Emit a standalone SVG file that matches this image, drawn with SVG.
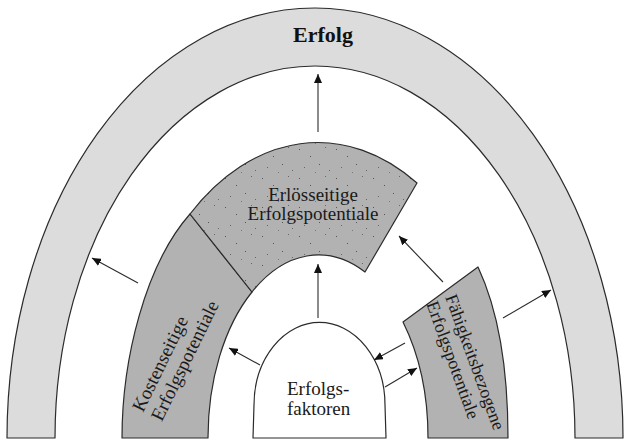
<svg xmlns="http://www.w3.org/2000/svg" width="624" height="443" viewBox="0 0 624 443">
<style>
.band{stroke:#2b2b2b;stroke-width:1.2;stroke-linejoin:round}
.outer{fill:#dcdcdc}
.mid{fill:#b2b2b2}
.white{fill:#ffffff}
.lbl{font-family:"Liberation Serif","Times New Roman",serif;font-size:19px;fill:#1a1a1a}
.sm{font-size:18px}
.ttl{font-family:"Liberation Serif","Times New Roman",serif;font-size:22px;font-weight:bold;fill:#111}
.arr{stroke:#2b2b2b;stroke-width:1.1;fill:none;marker-end:url(#ah)}
</style>
<defs>
<marker id="ah" markerUnits="userSpaceOnUse" markerWidth="10" markerHeight="8" refX="9" refY="4" orient="auto">
<path d="M0,0 L9,4 L0,8 Z" fill="#111"/>
</marker>
<pattern id="speck" width="37" height="29" patternUnits="userSpaceOnUse">
<rect width="37" height="29" fill="#b2b2b2"/>
<rect x="3" y="4" width="1" height="1" fill="#555"/>
<rect x="14" y="11" width="1" height="1" fill="#555"/>
<rect x="29" y="2" width="1" height="1" fill="#666"/>
<rect x="8" y="22" width="1" height="1" fill="#666"/>
<rect x="23" y="19" width="1" height="1" fill="#555"/>
<rect x="33" y="25" width="1" height="1" fill="#666"/>
<rect x="19" y="27" width="1" height="1" fill="#777"/>
</pattern>
</defs>

<g id="node-erfolg">
<path class="band outer" d="M7,438 A308,430 0 0 1 623,438 L575,438 A260,372 0 0 0 55,438 Z"/>
<text class="ttl" x="323" y="42" text-anchor="middle">Erfolg</text>
</g>

<g id="node-kosten">
<path class="band mid" d="M122,438 C122,360 145,265 190,214 L252,292 A110,182 0 0 0 208,438 Z"/>
<g transform="translate(143,413) rotate(-64)">
<text class="lbl" x="0" y="0">Kostenseitige</text>
<text class="lbl" x="0" y="21">Erfolgspotentiale</text>
</g>
</g>

<g id="node-erloes">
<path class="band" fill="url(#speck)" d="M190,214 A196,295 0 0 1 417,183 L365,272 A110,182 0 0 0 252,292 Z"/>
<text class="lbl" x="313" y="201" text-anchor="middle">Erlösseitige</text>
<text class="lbl" x="313" y="220" text-anchor="middle">Erfolgspotentiale</text>
</g>

<g id="node-faehigkeit">
<path class="band mid" d="M403,322 L478,267 Q508,331 508,438 L428,438 A110,182 0 0 0 403,322 Z"/>
<g transform="translate(445,297) rotate(70)">
<text class="lbl sm" x="0" y="0">Fähigkeitsbezogene</text>
<text class="lbl sm" x="0" y="20">Erfolgspotentiale</text>
</g>
</g>

<g id="node-faktoren">
<path class="band white" d="M253,438 L254,405 A65,82 0 0 1 385,405 L386,438 Z"/>
<text class="lbl" x="287" y="395">Erfolgs-</text>
<text class="lbl" x="287" y="415">faktoren</text>
</g>

<g id="connectors">
<line class="arr" x1="318" y1="132" x2="318" y2="74"/>
<line class="arr" x1="138" y1="283" x2="92" y2="258"/>
<line class="arr" x1="318" y1="318" x2="318" y2="264"/>
<line class="arr" x1="260" y1="365" x2="229" y2="348"/>
<line class="arr" x1="443" y1="282" x2="399" y2="236"/>
<line class="arr" x1="405" y1="343" x2="374" y2="360"/>
<line class="arr" x1="385" y1="387" x2="417" y2="368"/>
<line class="arr" x1="503" y1="318" x2="551" y2="290"/>
</g>
</svg>
